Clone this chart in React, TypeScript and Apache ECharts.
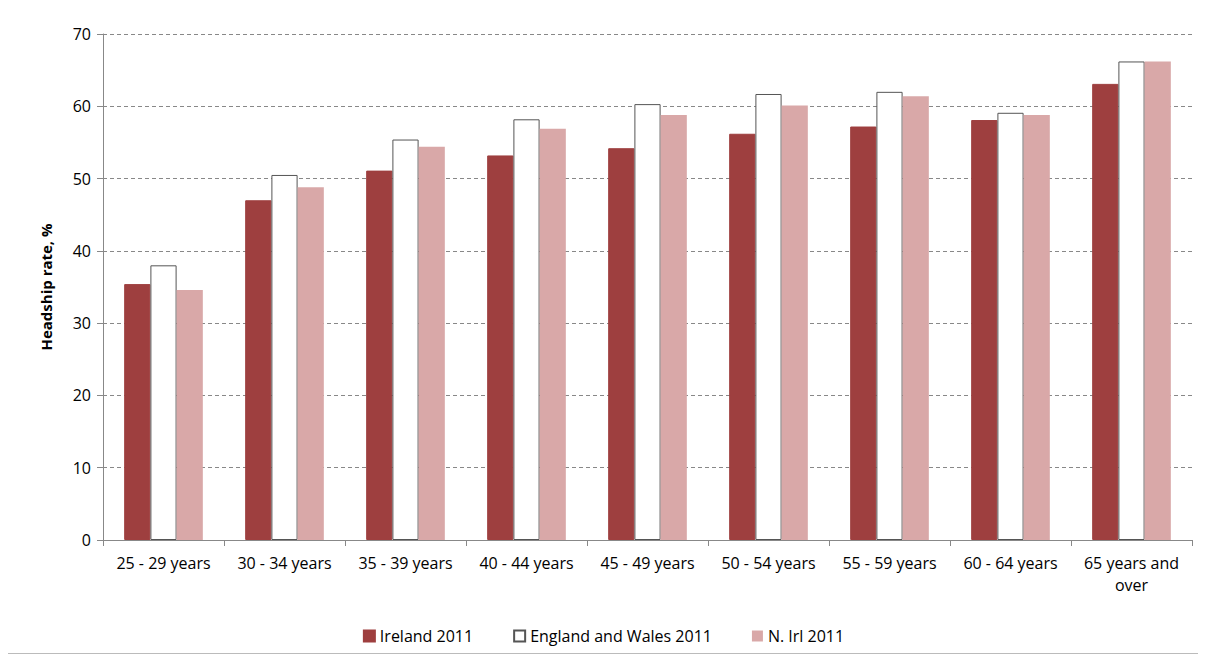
import React, { useEffect, useRef } from "react";
import * as echarts from "echarts";

const categories = ["25 - 29 years", "30 - 34 years", "35 - 39 years", "40 - 44 years", "45 - 49 years", "50 - 54 years", "55 - 59 years", "60 - 64 years", "65 years and\nover"];
const ireland = [35.4, 47.0, 51.1, 53.2, 54.2, 56.2, 57.2, 58.1, 63.1];
const englandWales = [38.0, 50.5, 55.4, 58.2, 60.3, 61.7, 62.0, 59.1, 66.2];
const nIrl = [34.6, 48.8, 54.4, 56.9, 58.8, 60.1, 61.4, 58.8, 66.2];

export default function App() {
  const ref = useRef<HTMLDivElement>(null);
  useEffect(() => {
    const chart = echarts.init(ref.current!, null, { renderer: "svg" });
    const font = "'Open Sans', 'Liberation Sans', sans-serif";
    chart.setOption({
      animation: false,
      textStyle: { fontFamily: font },
      grid: { left: 100, right: 12, top: 31, bottom: 113 },
      legend: {
        bottom: 4, left: "center", itemWidth: 11, itemHeight: 11, itemGap: 40,
        icon: "rect",
        textStyle: { fontSize: 16, color: "#000", fontFamily: font },
        data: ["Ireland 2011", "England and Wales 2011", "N. Irl 2011"],
      },
      xAxis: {
        type: "category", data: categories,
        axisLine: { lineStyle: { color: "#888" } },
        axisTick: { show: true, length: 6, lineStyle: { color: "#888" } },
        axisLabel: { color: "#000", fontSize: 16, margin: 12, lineHeight: 22, interval: 0 },
      },
      yAxis: {
        type: "value", min: 0, max: 70, interval: 10,
        name: "Headship rate, %", nameLocation: "middle", nameGap: 50,
        nameTextStyle: { fontWeight: "bold", fontSize: 15, color: "#000" },
        axisLine: { show: true, lineStyle: { color: "#888" } },
        axisTick: { show: true, length: 6, lineStyle: { color: "#888" } },
        axisLabel: { color: "#000", fontSize: 16, margin: 12 },
        splitLine: { lineStyle: { color: "#888", type: [4, 3] } },
      },
      series: [
        { name: "Ireland 2011", type: "bar", data: ireland, barGap: "0%", barCategoryGap: "35%", itemStyle: { color: "#9e3f3f", borderColor: "#9e3f3f", borderWidth: 1 } },
        { name: "England and Wales 2011", type: "bar", data: englandWales, itemStyle: { color: "#ffffff", borderColor: "#555", borderWidth: 1 } },
        { name: "N. Irl 2011", type: "bar", data: nIrl, itemStyle: { color: "#d9a8a8" } },
      ],
    });
    return () => chart.dispose();
  }, []);
  return (
    <div style={{ width: 1203, height: 652, border: "1px solid #bbb", boxSizing: "border-box", margin: "-6px 0 0 -6px" }}>
      <div ref={ref} style={{ width: 1201, height: 650 }} />
    </div>
  );
}
